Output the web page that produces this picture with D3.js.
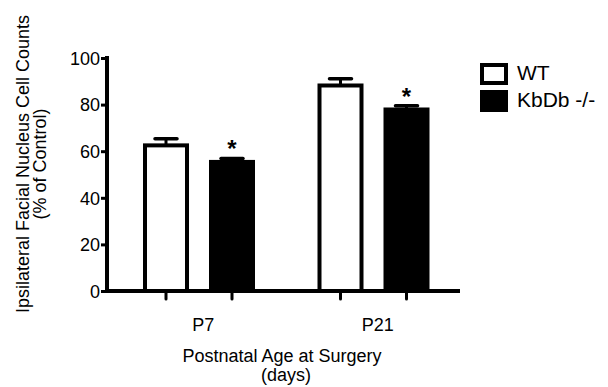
<!DOCTYPE html>
<html>
<head>
<meta charset="utf-8">
<script src="https://cdnjs.cloudflare.com/ajax/libs/d3/7.8.5/d3.min.js"></script>
<style>
  body { margin: 0; background: #fff; }
  text { font-family: Arial, "Liberation Sans", sans-serif; fill: #000; }
</style>
</head>
<body>
<div class="graph"></div>
<script>
// chart data
var ages = ["P7", "P21"];
var groups = ["WT", "KbDb -/-"];
var wtMeans = [62.5, 88.2];
var wtErr = [2.8, 2.9];
var kbMeans = [55.4, 77.9];
var kbErr = [1.5, 1.6];
var yTicks = [0, 20, 40, 60, 80, 100];

var w = 608;
var h = 387;

var svg = d3.select("div.graph")
  .append("svg")
  .attr("width", w)
  .attr("height", h);

var y = d3.scaleLinear().domain([0, 100]).range([291, 58]);
var x0 = d3.scaleBand().domain(ages).range([112, 461]);
var x1 = d3.scalePoint().domain(groups).range([54, 120]);
var barW = 42;

// rows of bars built from the arrays
var rows = [];
ages.forEach(function(a, i) {
  rows.push({ age: a, grp: groups[0], v: wtMeans[i], e: wtErr[i], star: false });
  rows.push({ age: a, grp: groups[1], v: kbMeans[i], e: kbErr[i], star: true });
});

function cx(d) { return x0(d.age) + x1(d.grp); }

// error bars (drawn first so bar outline sits on top)
svg.selectAll("line.err")
  .data(rows)
  .enter().append("line")
  .attr("class", "err")
  .attr("x1", cx).attr("x2", cx)
  .attr("y1", function(d) { return y(d.v); })
  .attr("y2", function(d) { return y(d.v + d.e); })
  .attr("stroke", "#000").attr("stroke-width", 3);

svg.selectAll("line.cap")
  .data(rows)
  .enter().append("line")
  .attr("class", "cap")
  .attr("x1", function(d) { return cx(d) - 11; })
  .attr("x2", function(d) { return cx(d) + 11; })
  .attr("y1", function(d) { return y(d.v + d.e); })
  .attr("y2", function(d) { return y(d.v + d.e); })
  .attr("stroke", "#000").attr("stroke-width", 3.5)
  .attr("stroke-linecap", "round");

svg.selectAll("rect.bar")
  .data(rows)
  .enter().append("rect")
  .attr("class", "bar")
  .attr("x", function(d) { return cx(d) - barW / 2; })
  .attr("y", function(d) { return y(d.v); })
  .attr("width", barW)
  .attr("height", function(d) { return y(0) - y(d.v); })
  .attr("fill", function(d) { return d.grp === "WT" ? "#fff" : "#000"; })
  .attr("stroke", "#000")
  .attr("stroke-width", 4);

// significance stars
svg.selectAll("text.star")
  .data(rows.filter(function(d) { return d.star; }))
  .enter().append("text")
  .attr("class", "star")
  .attr("x", cx)
  .attr("y", function(d) { return y(d.v + d.e) - 1; })
  .attr("text-anchor", "middle")
  .style("font-size", "24px")
  .style("font-weight", "bold")
  .text("*");

// y axis
var yAxis = d3.axisLeft(y).tickValues(yTicks).tickSize(6).tickPadding(1);
var gy = svg.append("g").attr("transform", "translate(107,0)").call(yAxis);
gy.select(".domain").attr("stroke-width", 4).attr("d", "M0," + (y(100) - 2) + "V" + (y(0) + 2));
gy.selectAll(".tick line").attr("stroke-width", 3);
gy.selectAll(".tick text").style("font-size", "18px").attr("dy", "0.35em");

// x axis: a tick under each bar
var gx = svg.append("g").attr("transform", "translate(0," + y(0) + ")");
gx.append("line")
  .attr("x1", 105).attr("x2", 460)
  .attr("stroke", "#000").attr("stroke-width", 4);
gx.selectAll("line.xt")
  .data(rows)
  .enter().append("line")
  .attr("class", "xt")
  .attr("x1", cx).attr("x2", cx)
  .attr("y1", 0).attr("y2", 8)
  .attr("stroke", "#000").attr("stroke-width", 3)
  .attr("stroke-linecap", "round");
gx.selectAll("text.xl")
  .data(ages)
  .enter().append("text")
  .attr("class", "xl")
  .attr("x", function(d) { return x0(d) + x0.bandwidth() / 2 + 4; })
  .attr("y", 40)
  .attr("text-anchor", "middle")
  .style("font-size", "18px")
  .text(function(d) { return d; });

// axis titles
svg.append("text")
  .attr("x", 282).attr("y", 362)
  .attr("text-anchor", "middle")
  .style("font-size", "18px")
  .text("Postnatal Age at Surgery");
svg.append("text")
  .attr("x", 286).attr("y", 381)
  .attr("text-anchor", "middle")
  .style("font-size", "18px")
  .text("(days)");

var yt = svg.append("g").attr("transform", "translate(29,164) rotate(-90)");
yt.append("text").attr("text-anchor", "middle").style("font-size", "18px")
  .text("Ipsilateral Facial Nucleus Cell Counts");
yt.append("text").attr("y", 17).attr("text-anchor", "middle").style("font-size", "18px")
  .text("(% of Control)");

// legend
var leg = svg.selectAll("g.leg")
  .data(groups)
  .enter().append("g")
  .attr("class", "leg")
  .attr("transform", function(d, i) { return "translate(482," + (65 + i * 27) + ")"; });
leg.append("rect")
  .attr("width", 24).attr("height", 18)
  .attr("fill", function(d, i) { return i === 0 ? "#fff" : "#000"; })
  .attr("stroke", "#000").attr("stroke-width", 4);
leg.append("text")
  .attr("x", 35).attr("y", 15)
  .style("font-size", "21px")
  .text(function(d) { return d; });
</script>
</body>
</html>
